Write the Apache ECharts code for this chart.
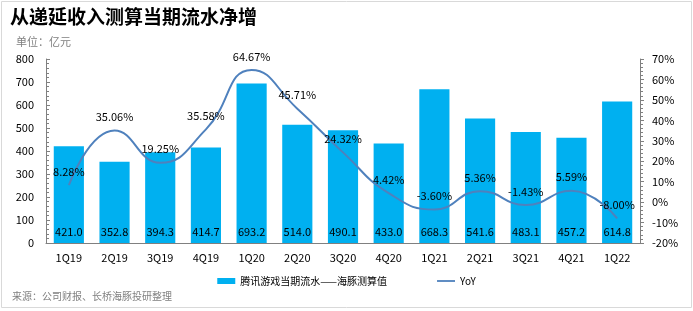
<!DOCTYPE html>
<html><head><meta charset="utf-8">
<script src="https://cdn.jsdelivr.net/npm/echarts@6/dist/echarts.min.js"></script>
<style>html,body{margin:0;padding:0;background:#fff}#c{width:693px;height:311px}</style>
</head><body><div id="c"></div>
<script>
var categories = ['1Q19','2Q19','3Q19','4Q19','1Q20','2Q20','3Q20','4Q20','1Q21','2Q21','3Q21','4Q21','1Q22'];
var revenue = [421.0,352.8,394.3,414.7,693.2,514.0,490.1,433.0,668.3,541.6,483.1,457.2,614.8];
var yoy = [8.28,35.06,19.25,35.58,64.67,45.71,24.32,4.42,-3.60,5.36,-1.43,5.59,-8.00];
var leftTicks = [0,100,200,300,400,500,600,700,800];
var rightTicks = [-20,-10,0,10,20,30,40,50,60,70];

var FONT = '"Noto Sans CJK SC", "Liberation Sans", sans-serif';
var chart = echarts.init(document.getElementById('c'), null, {renderer:'canvas'});
chart.setOption({
  animation:false,
  textStyle:{fontFamily:FONT},
  graphic:[
    {type:'rect', shape:{x:1.5,y:1.5,width:690,height:306}, style:{fill:'none', stroke:'#d9d9d9', lineWidth:1}},
    {type:'text', left:10, top:7, style:{text:'从递延收入测算当期流水净增', font:'bold 19px '+FONT, fill:'#000'}},
    {type:'text', left:16, top:36, style:{text:'单位：亿元', font:'11px '+FONT, fill:'#7f7f7f'}},
    {type:'text', left:12, top:291, style:{text:'来源：公司财报、长桥海豚投研整理', font:'10px '+FONT, fill:'#7f7f7f'}}
  ],
  grid:{left:46, right:53, top:59, bottom:68},
  legend:{
    bottom:20, left:'center', itemGap:50, itemWidth:18, itemHeight:6,
    textStyle:{fontSize:10, color:'#000', fontFamily:FONT},
    data:[{name:'腾讯游戏当期流水——海豚测算值', icon:'rect'}, {name:'YoY', icon:'path://M0,0H20V2H0Z'}]
  },
  xAxis:{
    type:'category', data:categories,
    axisLine:{lineStyle:{color:'#808080'}}, axisTick:{show:false},
    axisLabel:{color:'#000', fontSize:11, margin:9}
  },
  yAxis:[
    {type:'value', min:0, max:800, interval:100,
     axisLine:{show:true, lineStyle:{color:'#808080'}},
     axisTick:{show:true, inside:true, length:4, lineStyle:{color:'#808080'}},
     minorTick:{show:true, splitNumber:5, length:3, lineStyle:{color:'#808080'}},
     splitLine:{show:false},
     axisLabel:{color:'#000', fontSize:11, margin:12}},
    {type:'value', min:-20, max:70, interval:10,
     axisLine:{show:true, lineStyle:{color:'#808080'}},
     axisTick:{show:true, inside:false, length:4, lineStyle:{color:'#808080'}},
     minorTick:{show:true, splitNumber:5, length:3, lineStyle:{color:'#808080'}},
     splitLine:{show:false},
     axisLabel:{color:'#000', fontSize:11, margin:12, formatter:'{value}%'}}
  ],
  series:[
    {name:'腾讯游戏当期流水——海豚测算值', type:'bar', data:revenue, barWidth:'66%',
     itemStyle:{color:'#00b0f0'},
     label:{show:true, position:'insideBottom', distance:6, color:'#000', fontSize:11,
            formatter:function(p){return p.value.toFixed(1);}}},
    {name:'YoY', type:'line', yAxisIndex:1, data:yoy, smooth:true, showSymbol:true, symbol:'circle', symbolSize:0.1,
     lineStyle:{color:'#4f81bd', width:2}, itemStyle:{color:'#4f81bd'},
     label:{show:true, position:'top', distance:8, color:'#000', fontSize:11,
            formatter:function(p){return p.value.toFixed(2)+'%';}}}
  ]
});
</script></body></html>
